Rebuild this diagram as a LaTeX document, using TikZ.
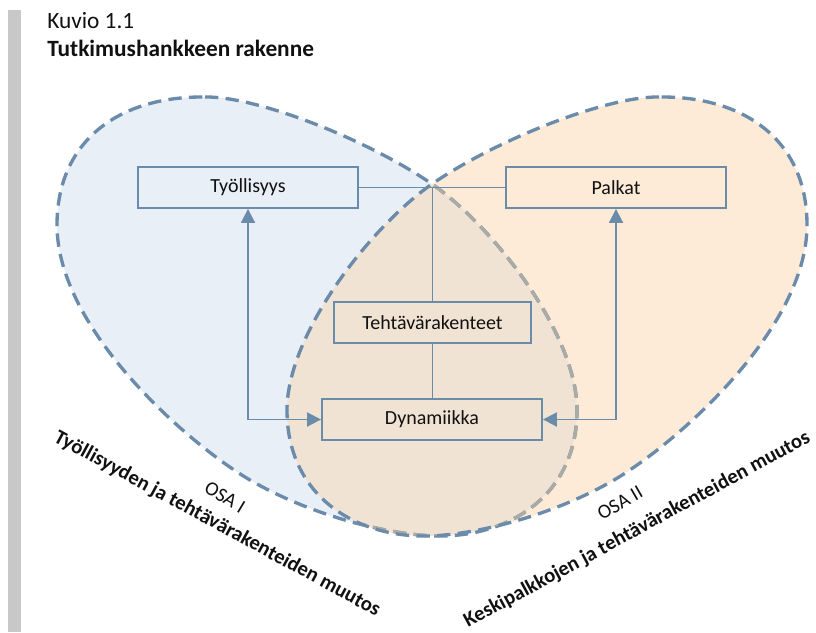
\documentclass[tikz,border=0pt]{standalone}
\usepackage{fontspec}
\setmainfont{Carlito}
\usetikzlibrary{arrows.meta}
\definecolor{bfill}{HTML}{E9EFF7}
\definecolor{ofill}{HTML}{FDEBD8}
\definecolor{ifill}{HTML}{F0E3D3}
\definecolor{edge}{HTML}{6B8BAA}
\definecolor{greyedge}{HTML}{ABABA6}
\definecolor{barc}{HTML}{C8C8C8}
\definecolor{txt}{HTML}{111111}
\def\blueshape{(205,97) .. controls (255,96) and (365,138) .. (432,184)
  .. controls (495,228) and (577,335) .. (577,410)
  .. controls (577,495) and (510,536) .. (440,536)
  .. controls (390,536) and (310,515) .. (250,480)
  .. controls (190,445) and (57,330) .. (57,225)
  .. controls (57,140) and (120,96) .. (205,97) -- cycle}
\def\orangeshape{(659,97) .. controls (609,96) and (499,138) .. (432,184)
  .. controls (369,228) and (287,335) .. (287,410)
  .. controls (287,495) and (354,536) .. (424,536)
  .. controls (474,536) and (554,515) .. (614,480)
  .. controls (674,445) and (807,330) .. (807,225)
  .. controls (807,140) and (744,96) .. (659,97) -- cycle}
\begin{document}
\begin{tikzpicture}[x=0.75pt,y=-0.75pt,
  outline/.style={line width=2.5pt, dash pattern=on 10pt off 5.5pt},
  box/.style={draw=edge, line width=1.4pt, minimum height=30.75pt, inner sep=0pt, text=txt, font=\fontsize{15}{18}\selectfont},
  conn/.style={draw=edge, line width=1.4pt},
  arr/.style={conn, {Triangle[length=10.5pt,width=10.5pt]}-{Triangle[length=10.5pt,width=10.5pt]}},
  lbl/.style={inner sep=0pt, text=txt}]
\useasboundingbox (0,0) rectangle (816,632);
\fill[barc] (8,10) rectangle (21,632);
% titles
\node[lbl, anchor=base west, font=\fontsize{17.5}{21}\selectfont] (kuvio) at (47,28) {Kuvio 1.1};
\node[lbl, anchor=base west, font=\bfseries\fontsize{17.5}{21}\selectfont] (otsikko) at (47,56) {Tutkimushankkeen rakenne};
% shapes
\fill[bfill] \blueshape;
\fill[ofill] \orangeshape;
\begin{scope}
  \clip \blueshape;
  \fill[ifill] \orangeshape;
\end{scope}
\draw[outline, edge] \blueshape;
\begin{scope}
  \clip \orangeshape;
  \draw[outline, greyedge] \blueshape;
\end{scope}
\draw[outline, edge] \orangeshape;
% boxes
\node[box, minimum width=165pt] (ty) at (248,187.5) {Työllisyys};
\node[box, minimum width=165pt] (pa) at (616,187.5) {Palkat};
\node[box, minimum width=147.75pt] (te) at (432.5,322.5) {Tehtävärakenteet};
\node[box, minimum width=165pt] (dy) at (432,419.5) {Dynamiikka};
% connectors
\draw[conn] (ty.east) -- (pa.west);
\draw[conn] (te.north) -- (te.north |- ty.east);
\draw[conn] (te.south) -- (dy.north -| te.south);
\draw[arr] (ty.south) |- (dy.west);
\draw[arr] (pa.south) |- (dy.east);
% part labels
\node[lbl, rotate=-31, font=\fontsize{15}{18}\selectfont] (osa1) at (225,497) {OSA I};
\node[lbl, rotate=30, font=\fontsize{15}{18}\selectfont] (osa2) at (620,503) {OSA II};
\node[lbl, rotate=-28.5, font=\bfseries\fontsize{15.5}{18}\selectfont] (l1) at (217,524) {Työllisyyden ja tehtävärakenteiden muutos};
\node[lbl, rotate=28.5, font=\bfseries\fontsize{15.5}{18}\selectfont] (l2) at (637,530) {Keskipalkkojen ja tehtävärakenteiden muutos};
\end{tikzpicture}
\end{document}
